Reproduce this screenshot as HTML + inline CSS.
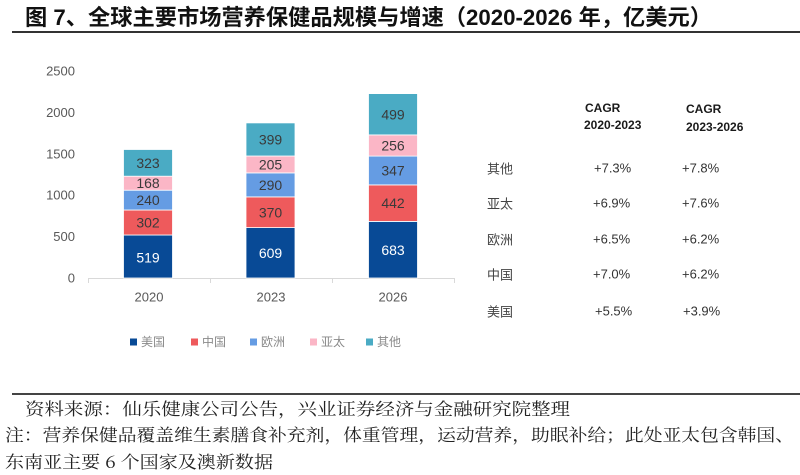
<!DOCTYPE html>
<html><head><meta charset="utf-8">
<style>
html,body{margin:0;padding:0;background:#fff;}
svg{display:block;}
</style></head>
<body>
<svg width="800" height="475" viewBox="0 0 800 475" xmlns="http://www.w3.org/2000/svg">
<rect width="800" height="475" fill="#fff"/>
<!-- Title -->
<text x="25" y="25" font-family="'Liberation Sans','Noto Sans CJK SC',sans-serif" font-size="22" font-weight="bold" fill="#111" textLength="687" lengthAdjust="spacingAndGlyphs">图 7、全球主要市场营养保健品规模与增速（2020-2026 年，亿美元）</text>
<rect x="12" y="31" width="788" height="2" fill="#333"/>

<!-- Y axis labels -->
<g font-family="'Liberation Sans',sans-serif" font-size="13" fill="#595959" text-anchor="end" dominant-baseline="central">
<text x="75" y="278">0</text>
<text x="75" y="236.6">500</text>
<text x="75" y="195.2">1000</text>
<text x="75" y="153.8">1500</text>
<text x="75" y="112.4">2000</text>
<text x="75" y="71">2500</text>
</g>

<!-- Axis -->
<line x1="88" y1="278.5" x2="454" y2="278.5" stroke="#d9d9d9" stroke-width="1"/>
<g stroke="#d9d9d9" stroke-width="1">
<line x1="88.5" y1="278" x2="88.5" y2="283"/>
<line x1="210.5" y1="278" x2="210.5" y2="283"/>
<line x1="332.5" y1="278" x2="332.5" y2="283"/>
<line x1="454.5" y1="278" x2="454.5" y2="283"/>
</g>

<!-- Bars -->
<g stroke="#fff" stroke-width="0.8">
<rect x="123.5" y="235.0" width="49" height="43.0" fill="#084A96"/>
<rect x="123.5" y="210.0" width="49" height="25.0" fill="#EE5A5C"/>
<rect x="123.5" y="190.2" width="49" height="19.8" fill="#659CE3"/>
<rect x="123.5" y="176.2" width="49" height="14.0" fill="#FBB6C6"/>
<rect x="123.5" y="149.5" width="49" height="26.7" fill="#4AABC4"/>
<rect x="246" y="227.6" width="49" height="50.4" fill="#084A96"/>
<rect x="246" y="196.9" width="49" height="30.7" fill="#EE5A5C"/>
<rect x="246" y="172.9" width="49" height="24.0" fill="#659CE3"/>
<rect x="246" y="156.0" width="49" height="16.9" fill="#FBB6C6"/>
<rect x="246" y="122.9" width="49" height="33.1" fill="#4AABC4"/>
<rect x="368.5" y="221.4" width="49" height="56.6" fill="#084A96"/>
<rect x="368.5" y="184.9" width="49" height="36.5" fill="#EE5A5C"/>
<rect x="368.5" y="156.1" width="49" height="28.8" fill="#659CE3"/>
<rect x="368.5" y="134.9" width="49" height="21.2" fill="#FBB6C6"/>
<rect x="368.5" y="93.6" width="49" height="41.3" fill="#4AABC4"/>
</g>

<!-- Bar labels -->
<g font-family="'Liberation Sans',sans-serif" font-size="14" text-anchor="middle" dominant-baseline="central" fill="#3a3a3a">
<text x="148" y="257.5" fill="#fff">519</text>
<text x="148" y="222.5">302</text>
<text x="148" y="200.1">240</text>
<text x="148" y="183.2">168</text>
<text x="148" y="162.9">323</text>
<text x="270.5" y="253" fill="#fff">609</text>
<text x="270.5" y="212.3">370</text>
<text x="270.5" y="184.9">290</text>
<text x="270.5" y="164.5">205</text>
<text x="270.5" y="139.5">399</text>
<text x="393" y="250" fill="#fff">683</text>
<text x="393" y="203.2">442</text>
<text x="393" y="170.5">347</text>
<text x="393" y="145.5">256</text>
<text x="393" y="114.3">499</text>
</g>

<!-- X labels -->
<g font-family="'Liberation Sans',sans-serif" font-size="13" fill="#595959" text-anchor="middle" dominant-baseline="central">
<text x="149" y="297">2020</text>
<text x="271" y="297">2023</text>
<text x="393" y="297">2026</text>
</g>

<!-- Legend -->
<g font-family="'Liberation Sans','Noto Sans CJK SC',sans-serif" font-size="12" fill="#8a8a8a" dominant-baseline="central">
<rect x="130" y="338.5" width="7" height="7" fill="#084A96"/><text x="141" y="342">美国</text>
<rect x="191" y="338.5" width="7" height="7" fill="#EE5A5C"/><text x="202" y="342">中国</text>
<rect x="250" y="338.5" width="7" height="7" fill="#659CE3"/><text x="261" y="342">欧洲</text>
<rect x="310" y="338.5" width="7" height="7" fill="#FBB6C6"/><text x="321" y="342">亚太</text>
<rect x="366" y="338.5" width="7" height="7" fill="#4AABC4"/><text x="377" y="342">其他</text>
</g>

<!-- CAGR table -->
<g font-family="'Liberation Sans',sans-serif" font-size="12" font-weight="bold" fill="#1a1a1a" dominant-baseline="central">
<text x="585" y="108">CAGR</text>
<text x="584" y="125">2020-2023</text>
<text x="686" y="109">CAGR</text>
<text x="686" y="127">2023-2026</text>
</g>
<g font-family="'Liberation Sans','Noto Sans CJK SC',sans-serif" font-size="13" fill="#444" dominant-baseline="central">
<text x="487" y="169">其他</text>
<text x="487" y="204">亚太</text>
<text x="487" y="240">欧洲</text>
<text x="487" y="275">中国</text>
<text x="487" y="312">美国</text>
</g>
<g font-family="'Liberation Sans',sans-serif" font-size="13" fill="#333" dominant-baseline="central">
<text x="594" y="168">+7.3%</text>
<text x="682" y="168">+7.8%</text>
<text x="593" y="203">+6.9%</text>
<text x="682" y="203">+7.6%</text>
<text x="593" y="239">+6.5%</text>
<text x="682" y="239">+6.2%</text>
<text x="593" y="274">+7.0%</text>
<text x="682" y="274">+6.2%</text>
<text x="595" y="311">+5.5%</text>
<text x="683" y="311">+3.9%</text>
</g>

<!-- Footer -->
<rect x="12" y="393" width="788" height="2" fill="#444"/>
<g font-family="'Noto Serif CJK SC','Liberation Serif',serif" font-size="17" fill="#222">
<text x="25" y="415" textLength="545" lengthAdjust="spacingAndGlyphs">资料来源：仙乐健康公司公告，兴业证券经济与金融研究院整理</text>
<text x="5" y="441" textLength="789" lengthAdjust="spacingAndGlyphs">注：营养保健品覆盖维生素膳食补充剂，体重管理，运动营养，助眠补给；此处亚太包含韩国、</text>
<text x="5" y="468" textLength="268" lengthAdjust="spacingAndGlyphs">东南亚主要 6 个国家及澳新数据</text>
</g>
</svg>
</body></html>
